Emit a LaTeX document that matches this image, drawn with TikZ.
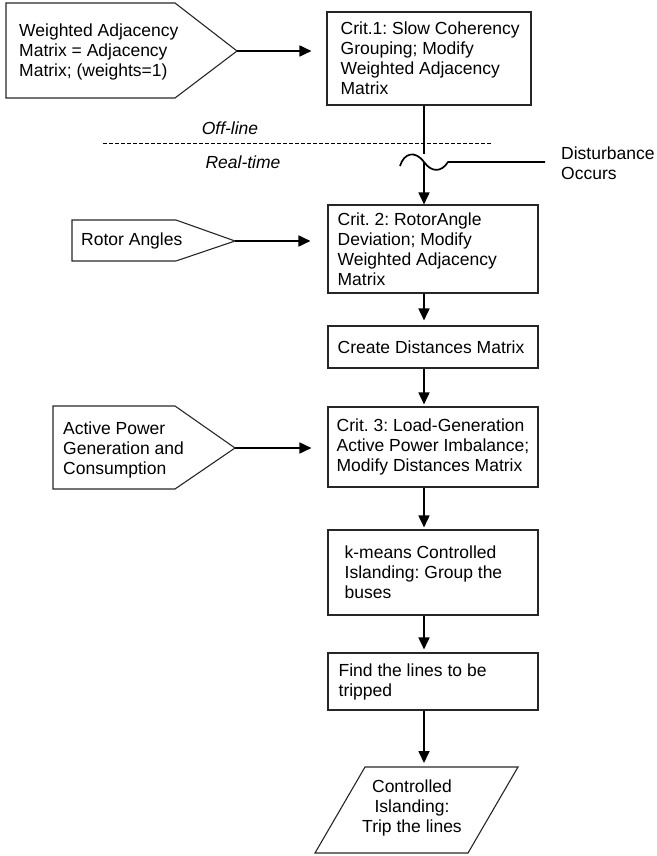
\documentclass[tikz,border=0pt]{standalone}
\usepackage{fontspec}
\setmainfont{Liberation Sans}
\usetikzlibrary{arrows.meta}
\frenchspacing
\begin{document}
\begin{tikzpicture}[x=1pt,y=-1pt,
  every node/.style={font=\fontsize{17.5}{20}\selectfont},
  box/.style={draw=black!85, line width=1.1pt, inner sep=0pt},
  txt/.style={align=left, inner sep=0pt, anchor=west},
  inshape/.style={draw=black!85, line width=1.1pt},
  arr/.style={line width=1.7pt, -{Triangle[length=12pt,width=11pt]}},
  ln/.style={line width=1.7pt}]
\useasboundingbox (0,0) rectangle (656,856);
\coordinate (col) at (424,0);
% main boxes
\node[box, minimum width=204pt, minimum height=93pt] (b1) at (429,58.5) {};
\node[txt] (b1t) at ([xshift=14pt]b1.west) {Crit.1: Slow Coherency\\Grouping; Modify\\Weighted Adjacency\\Matrix};
\node[box, minimum width=210pt, minimum height=88pt] (b2) at (433,249) {};
\node[txt] (b2t) at ([xshift=10pt]b2.west) {Crit. 2: RotorAngle\\Deviation; Modify\\Weighted Adjacency\\Matrix};
\node[box, minimum width=210pt, minimum height=42pt] (b3) at (433,347) {};
\node[txt] (b3t) at ([xshift=10pt]b3.west) {Create Distances Matrix};
\node[box, minimum width=210pt, minimum height=80pt] (b4) at (433,447) {};
\node[txt] (b4t) at ([xshift=9pt]b4.west) {Crit. 3: Load-Generation\\Active Power Imbalance;\\Modify Distances Matrix};
\node[box, minimum width=210pt, minimum height=85pt] (b5) at (433,572.5) {};
\node[txt] (b5t) at ([xshift=17pt]b5.west) {k-means Controlled\\Islanding: Group the\\buses};
\node[box, minimum width=210pt, minimum height=57pt] (b6) at (433,681.5) {};
\node[txt] (b6t) at ([xshift=11pt]b6.west) {Find the lines to be\\tripped};
% output parallelogram
\draw[inshape] (365,767) -- (518,767) -- (468,853) -- (315,853) -- cycle;
\coordinate (ptop) at (424,767);
\node[align=center, inner sep=0pt] (pt) at (412,808) {Controlled\\Islanding:\\Trip the lines};
% input pentagons
\draw[inshape] (6,3) -- (175,3) -- (237,51) -- (175,98) -- (6,98) -- cycle;
\coordinate (p1tip) at (237,51);
\node[txt] (p1t) at (19,52) {Weighted Adjacency\\Matrix = Adjacency\\Matrix; (weights=1)};
\draw[inshape] (72,220) -- (176,220) -- (235,241) -- (176,261) -- (72,261) -- cycle;
\coordinate (p2tip) at (235,241);
\node[txt] (p2t) at (81,241) {Rotor Angles};
\draw[inshape] (53,406) -- (175,406) -- (235,448) -- (175,489) -- (53,489) -- cycle;
\coordinate (p3tip) at (235,448);
\node[txt] (p3t) at (63,450) {Active Power\\Generation and\\Consumption};
% horizontal arrows
\draw[arr, shorten >=15pt] (p1tip) -- (b1.west |- p1tip);
\draw[arr, shorten >=17pt] (p2tip) -- (b2.west |- p2tip);
\draw[arr, shorten >=16pt] (p3tip) -- (b4.west |- p3tip);
% off-line / real-time
\coordinate (dl) at (103,143);
\coordinate (dr) at (492,143);
\draw[line width=0.8pt, dash pattern=on 4pt off 2pt] (dl) -- (dr);
\node[font=\fontsize{17.5}{20}\selectfont\itshape, inner sep=0pt] (off) at (230,128) {Off-line};
\node[font=\fontsize{17.5}{20}\selectfont\itshape, inner sep=0pt] (real) at (243,162) {Real-time};
% disturbance
\coordinate (cut) at (424,154);
\coordinate (tl) at (400,166);
\coordinate (tilde) at (424,162);
\coordinate (tr) at (448,162);
\coordinate (dend) at (545,162);
\draw[ln] (b1.south -| col) -- (cut);
\draw[ln] (tl) .. controls (404,153) and (415,150) .. (tilde) .. controls (431,172) and (441,173) .. (tr) -- (dend);
\node[txt] (dist) at (561,163) {Disturbance\\Occurs};
\draw[arr] (tilde) -- (b2.north -| col);
% vertical arrows
\draw[arr, shorten >=5pt] (b2.south -| col) -- (b3.north -| col);
\draw[arr, shorten >=2pt] (b3.south -| col) -- (b4.north -| col);
\draw[arr, shorten >=2pt] (b4.south -| col) -- (b5.north -| col);
\draw[arr, shorten >=3pt] (b5.south -| col) -- (b6.north -| col);
\draw[arr, shorten >=4pt] (b6.south -| col) -- (ptop);
\end{tikzpicture}
\end{document}
